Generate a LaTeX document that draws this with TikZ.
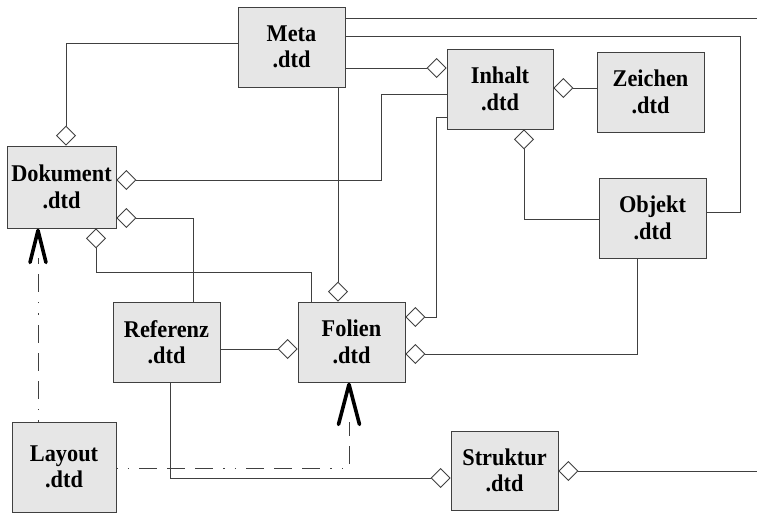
\documentclass[tikz,border=0pt]{standalone}
\usepackage{fontspec}
\usepackage{graphicx}
\setmainfont{Liberation Serif}
\usetikzlibrary{arrows.meta,calc}
\definecolor{boxfill}{HTML}{E6E6E6}
\definecolor{edge}{HTML}{404040}
% two-line module label, set bold and slightly narrowed
\newcommand\modlabel[2]{\scalebox{0.93}[1]{#1}\\\scalebox{0.93}[1]{#2}}
\begin{document}
\begin{tikzpicture}[x=1pt,y=-1pt,
  module/.style={draw=edge, line width=0.9pt, fill=boxfill, minimum width=107pt,
    minimum height=80pt, inner sep=0pt, align=center,
    font=\bfseries\fontsize{24}{26.5}\selectfont},
  link/.style={draw=edge, line width=0.9pt},
  agg/.style={link, {Diamond[open,length=20pt,width=20pt]}-},
  uses/.style={draw=edge, line width=0.9pt,
    dash pattern=on 1.5pt off 10pt on 1.5pt off 10pt on 18pt off 10pt on 18pt off 10pt on 18pt off 10pt},
  vhead/.style={draw=black, line width=3.6pt, line cap=round, line join=round}
]
\useasboundingbox (0,0) rectangle (757,514);

% modules
\node[module] (meta) at (291.5,47) {\modlabel{Meta}{.dtd}};
\node[module, minimum width=109pt, minimum height=82pt] (dok) at (61.5,187) {\modlabel{Dokument}{.dtd}};
\node[module, minimum width=106pt] (inh) at (500,89) {\modlabel{Inhalt}{.dtd}};
\node[module] (zei) at (650.5,92) {\modlabel{Zeichen}{.dtd}};
\node[module] (obj) at (652.5,218) {\modlabel{Objekt}{.dtd}};
\node[module] (ref) at (166.5,342) {\modlabel{Referenz}{.dtd}};
\node[module] (fol) at (351.5,342) {\modlabel{Folien}{.dtd}};
\node[module, minimum width=104pt, minimum height=90pt] (lay) at (64,467) {\modlabel{Layout}{.dtd}};
\node[module, minimum height=79pt] (str) at (504.5,470.5) {\modlabel{Struktur}{.dtd}};

% loose ends leaving to the right
\coordinate (eR1) at (757,18);
\coordinate (eR2) at (757,471);

% plain links
\draw[link] (meta.east |- eR1) -- (eR1);
\draw[link] ([yshift=11pt]meta.east) -| ([xshift=34pt,yshift=6pt]obj.east) -- ([yshift=6pt]obj.east);

% aggregations (diamond at the owning module)
\draw[agg] ([xshift=4.5pt]dok.north) |- ([yshift=4pt]meta.west);
\draw[agg] ([yshift=21pt]inh.west) -- ([yshift=21pt]inh.west -| meta.east);
\draw[agg] ([xshift=-13.5pt]fol.north) -- ([xshift=-13.5pt]fol.north |- meta.south);
\draw[agg] ([yshift=7pt]dok.east) -| ([xshift=-65pt,yshift=-5pt]inh.west) -- ([yshift=-5pt]inh.west);
\draw[agg] ([yshift=-31pt]dok.east) -| ([xshift=26.5pt]ref.north);
\draw[agg] ([xshift=34.5pt]dok.south) |- ([xshift=-40.5pt,yshift=29pt]fol.north) -- ([xshift=-40.5pt]fol.north);
\draw[agg] ([yshift=25pt]fol.east) -| ([xshift=-10pt,yshift=-28pt]inh.west) -- ([yshift=-28pt]inh.west);
\draw[agg] ([yshift=1pt]inh.east) -- ([yshift=1pt]inh.east -| zei.west);
\draw[agg] ([xshift=24pt]inh.south) |- ([yshift=-1pt]obj.west);
\draw[agg] ([yshift=-12pt]fol.east) -| ([xshift=-15.5pt]obj.south);
\draw[agg] ([yshift=-7pt]fol.west) -- ([yshift=-7pt]fol.west -| ref.east);
\draw[agg] ([yshift=-7.5pt]str.west) -| ([xshift=3.5pt]ref.south);
\draw[agg] (str.east |- eR2) -- (eR2);

% layout dependencies (dash-dot with open heads)
\draw[uses] ([xshift=-26pt]lay.north) -- ([xshift=-23.5pt,yshift=-30pt]dok.south);
\draw[vhead] ([xshift=-31.5pt,yshift=-34pt]dok.south) -- ([xshift=-23.5pt,yshift=-2pt]dok.south) -- ([xshift=-15.5pt,yshift=-34pt]dok.south);
\draw[uses] ([yshift=-1pt]lay.east) -| ([xshift=-2.5pt,yshift=-40pt]fol.south);
\draw[vhead] ([xshift=-13pt,yshift=-42pt]fol.south) -- ([xshift=-2.5pt,yshift=-2pt]fol.south) -- ([xshift=8pt,yshift=-42pt]fol.south);
\end{tikzpicture}
\end{document}
